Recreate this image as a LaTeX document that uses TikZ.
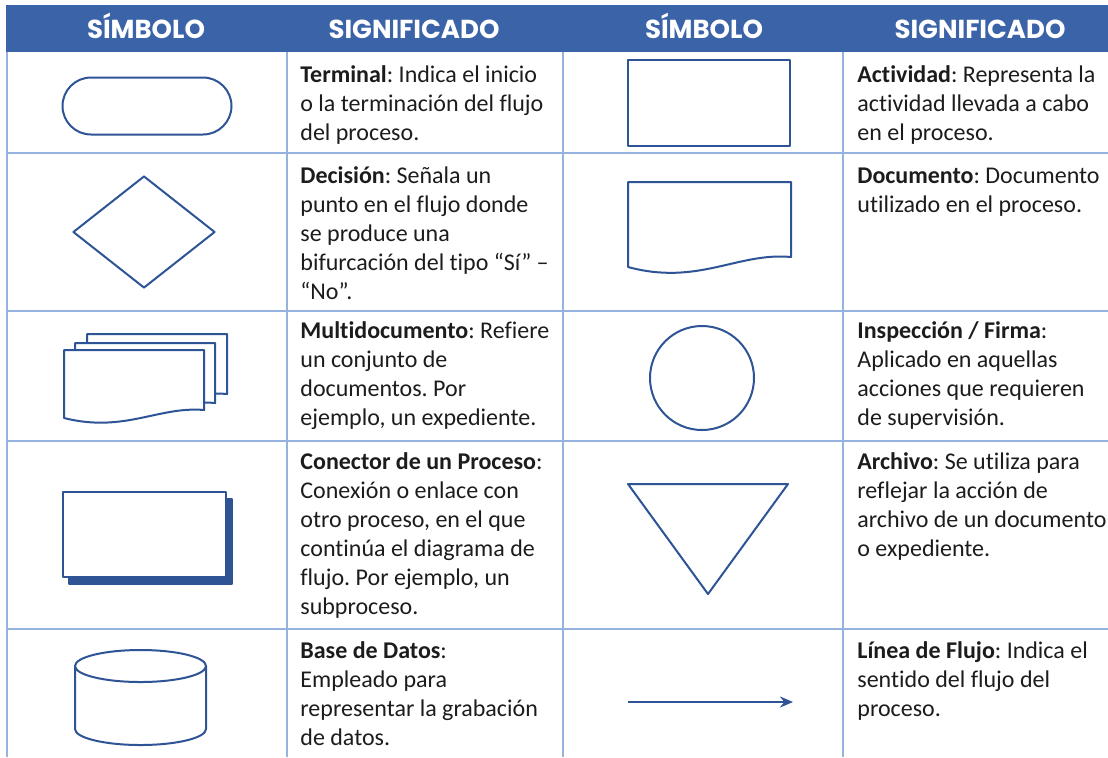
\documentclass[tikz,border=0pt]{standalone}
\usepackage{fontspec}
\setmainfont{Carlito}[Ligatures=NoCommon]
\newfontfamily\headfont{Poppins}
\usepackage{tikz}
\usetikzlibrary{arrows.meta, shapes, positioning}

\definecolor{headblue}{RGB}{59,99,168}
\definecolor{symblue}{RGB}{46,84,150}
\definecolor{gridblue}{RGB}{150,178,222}
\definecolor{txtgray}{RGB}{28,28,28}

\frenchspacing
\begin{document}
\begin{tikzpicture}[x=0.5pt, y=-0.5pt, >={Stealth[length=6.5pt, width=5.5pt]}, line join=round,
    head/.style={font=\headfont\bfseries\fontsize{13}{15}\selectfont, text=white,
                 inner sep=0pt, anchor=base},
    meaning/.style={anchor=north west, inner sep=0pt, align=left, text=txtgray,
                    font=\fontsize{12}{14.5}\selectfont},
    symbol/.style={draw=symblue, line width=1pt, fill=white, inner sep=0pt},
    hoja/.pic={\draw[symbol] (0,0) -- (163,0) -- (163,75)
                 .. controls (110,70) and (70,104) .. (0,85) -- cycle;}]
  \tikzstyle{grid line}=[draw=gridblue, line width=0.8pt]

  \useasboundingbox (0,0) rectangle (1108,757);

  % header
  \fill[headblue] (6,5) rectangle (1108,52);
  \node[head] (h1) at (146,38) {SÍMBOLO};
  \node[head] (h2) at (414,38) {SIGNIFICADO};
  \node[head] (h3) at (704,38) {SÍMBOLO};
  \node[head] (h4) at (980,38) {SIGNIFICADO};

  % grid
  \foreach \x in {7,287,563,843}
    \draw[grid line] (\x,52) -- (\x,757);
  \foreach \y in {153,311,441,629}
    \draw[grid line] (7,\y) -- (1108,\y);

  % symbols, left
  \node[symbol, rounded rectangle, minimum width=84.5pt, minimum height=28.5pt]
        (terminal) at (147,106) {};
  \node[symbol, diamond, minimum width=71pt, minimum height=56pt]
        (decision) at (144,232) {};
  \pic[xscale=0.86, yscale=0.8] (multiC) at (87,334) {hoja};
  \pic[xscale=0.86, yscale=0.8] (multiB) at (75,343) {hoja};
  \pic[xscale=0.86, yscale=0.8] (multiA) at (64,350) {hoja};
  \node[symbol, fill=symblue, minimum width=81.5pt, minimum height=42.5pt]
        (shadow) at (150.5,541.5) {};
  \node[symbol, minimum width=81.5pt, minimum height=42.5pt]
        (connector) at (144.5,534.5) {};
  \draw[symbol] (75,666) -- (75,729)
        arc[start angle=180, end angle=360, x radius=32.75pt, y radius=8pt] -- (206,666);
  \draw[symbol] (140.5,666) ellipse [x radius=32.75pt, y radius=8pt];

  % symbols, right
  \node[symbol, minimum width=81pt, minimum height=43pt] (activity) at (709,103) {};
  \pic (document) at (628,182) {hoja};
  \node[symbol, circle, minimum size=52pt] (inspection) at (702,378) {};
  \draw[symbol] (628,484) -- (788,484) -- (708,594) -- cycle;
  \coordinate (flujoA) at (628,702);
  \coordinate (flujoB) at (793,702);
  \draw[->, symblue, line width=1.2pt] (flujoA) -- (flujoB);

  % meanings
  \node[meaning] (tTerminal) at (300,62) {\strut\textbf{Terminal}: Indica el inicio\\
        o la terminación del flujo\\del proceso.};
  \node[meaning] (tDecision) at (300,163) {\strut\textbf{Decisión}: Señala un\\
        punto en el flujo donde\\se produce una\\bifurcación del tipo “Sí” –\\“No”.};
  \node[meaning] (tMulti) at (300,318) {\strut\textbf{Multidocumento}: Refiere\\
        un conjunto de\\documentos. Por\\ejemplo, un expediente.};
  \node[meaning] (tConnector) at (300,449) {\strut\textbf{Conector de un Proceso}:\\
        Conexión o enlace con\\otro proceso, en el que\\continúa el diagrama de\\
        flujo. Por ejemplo, un\\subproceso.};
  \node[meaning] (tBase) at (300,638) {\strut\textbf{Base de Datos}:\\
        Empleado para\\representar la grabación\\de datos.};

  \node[meaning] (tActivity) at (857,62) {\strut\textbf{Actividad}: Representa la\\
        actividad llevada a cabo\\en el proceso.};
  \node[meaning] (tDocument) at (857,163) {\strut\textbf{Documento}: Documento\\
        utilizado en el proceso.};
  \node[meaning] (tInspection) at (857,318) {\strut\textbf{Inspección / Firma}:\\
        Aplicado en aquellas\\acciones que requieren\\de supervisión.};
  \node[meaning] (tArchive) at (857,449) {\strut\textbf{Archivo}: Se utiliza para\\
        reflejar la acción de\\archivo de un documento\\o expediente.};
  \node[meaning] (tFlow) at (857,638) {\strut\textbf{Línea de Flujo}: Indica el\\
        sentido del flujo del\\proceso.};

\end{tikzpicture}
\end{document}
